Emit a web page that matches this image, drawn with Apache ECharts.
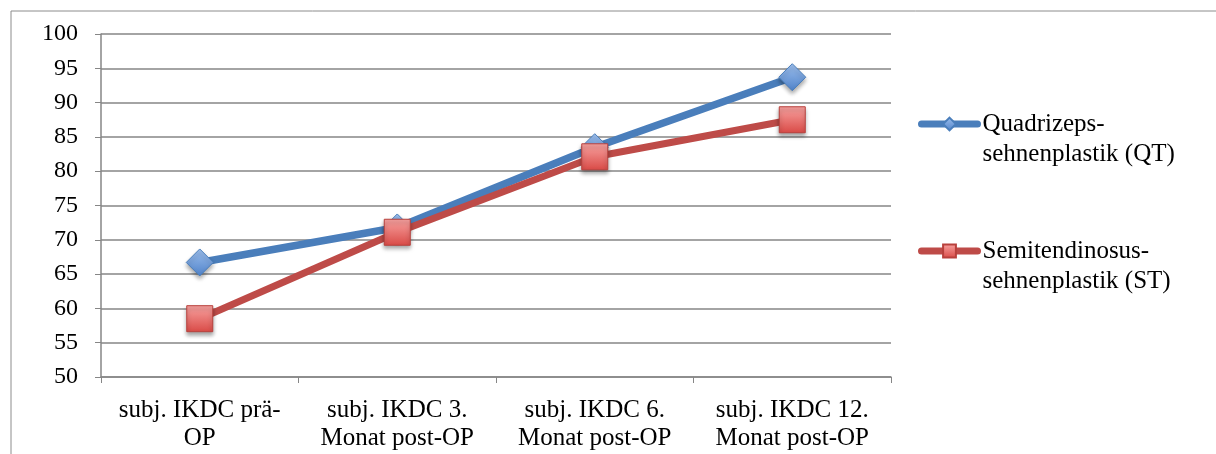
<!DOCTYPE html>
<html>
<head>
<meta charset="utf-8">
<script src="https://cdn.jsdelivr.net/npm/echarts@6/dist/echarts.min.js"></script>
<style>
  html, body { margin: 0; padding: 0; background: #fff; }
  #main { width: 1216px; height: 454px; }
</style>
</head>
<body>
<div id="main"></div>
<script>
const categories = [
  'subj. IKDC prä-\nOP',
  'subj. IKDC 3.\nMonat post-OP',
  'subj. IKDC 6.\nMonat post-OP',
  'subj. IKDC 12.\nMonat post-OP'
]
const qtValues = [66.7, 71.8, 83.5, 93.7]
const stValues = [58.5, 71.1, 82.1, 87.5]
const seriesNames = ['Quadrizeps-\nsehnenplastik (QT)', 'Semitendinosus-\nsehnenplastik (ST)']

const font = "'Liberation Serif', 'Times New Roman', serif"
const myChart = echarts.init(document.getElementById('main'))

const markerShadow = {
  shadowBlur: 4,
  shadowColor: 'rgba(0,0,0,0.35)',
  shadowOffsetY: 3
}

myChart.setOption({
  animation: false,
  textStyle: { fontFamily: font },
  graphic: [
    {
      type: 'rect',
      shape: { x: 11, y: 11, width: 1400, height: 600 },
      style: { fill: 'none', stroke: '#8c8c8c', lineWidth: 1 },
      z: -1
    }
  ],
  grid: {
    left: 101,
    right: 325,
    top: 34,
    bottom: 77
  },
  legend: {
    orient: 'vertical',
    left: 913,
    top: 74,
    itemWidth: 56,
    itemHeight: 16,
    itemGap: 37,
    data: seriesNames,
    // empty first line so the icon sits level with the first text line
    formatter: name => '\n' + name,
    lineStyle: { width: 7, cap: 'round' },
    textStyle: {
      fontFamily: font,
      fontSize: 25,
      color: '#000',
      lineHeight: 30
    }
  },
  xAxis: {
    type: 'category',
    data: categories,
    boundaryGap: true,
    axisLine: { lineStyle: { color: '#868686', width: 1.5 } },
    axisTick: { show: true, length: 6, lineStyle: { color: '#868686' } },
    axisLabel: {
      interval: 0,
      margin: 19,
      fontSize: 25,
      lineHeight: 28,
      color: '#000',
      fontFamily: font
    }
  },
  yAxis: {
    type: 'value',
    min: 50,
    max: 100,
    interval: 5,
    axisLine: { show: true, lineStyle: { color: '#868686', width: 1.5 } },
    axisTick: { show: true, length: 6, lineStyle: { color: '#868686' } },
    splitLine: { lineStyle: { color: '#868686', width: 1.5 } },
    axisLabel: {
      margin: 23,
      fontSize: 24,
      color: '#000',
      fontFamily: font
    }
  },
  series: [
    {
      name: seriesNames[0],
      type: 'line',
      data: qtValues,
      symbol: 'diamond',
      symbolSize: 27,
      lineStyle: { color: '#4a7ebb', width: 7.5 },
      itemStyle: Object.assign({
        color: new echarts.graphic.LinearGradient(0, 0, 0, 1, [
          { offset: 0, color: '#9ec0ee' },
          { offset: 1, color: '#4f82c9' }
        ]),
        borderColor: '#4a7ebb',
        borderWidth: 1
      }, markerShadow),
      z: 2
    },
    {
      name: seriesNames[1],
      type: 'line',
      data: stValues,
      symbol: 'rect',
      symbolSize: 26,
      lineStyle: { color: '#be4b48', width: 7 },
      itemStyle: Object.assign({
        color: new echarts.graphic.LinearGradient(0, 0, 0, 1, [
          { offset: 0, color: '#f8a3a1' },
          { offset: 1, color: '#d94a46' }
        ]),
        borderColor: '#b8403c',
        borderWidth: 1
      }, markerShadow),
      z: 3
    }
  ]
})

window.addEventListener('resize', () => {
  myChart.resize()
})
</script>
</body>
</html>
